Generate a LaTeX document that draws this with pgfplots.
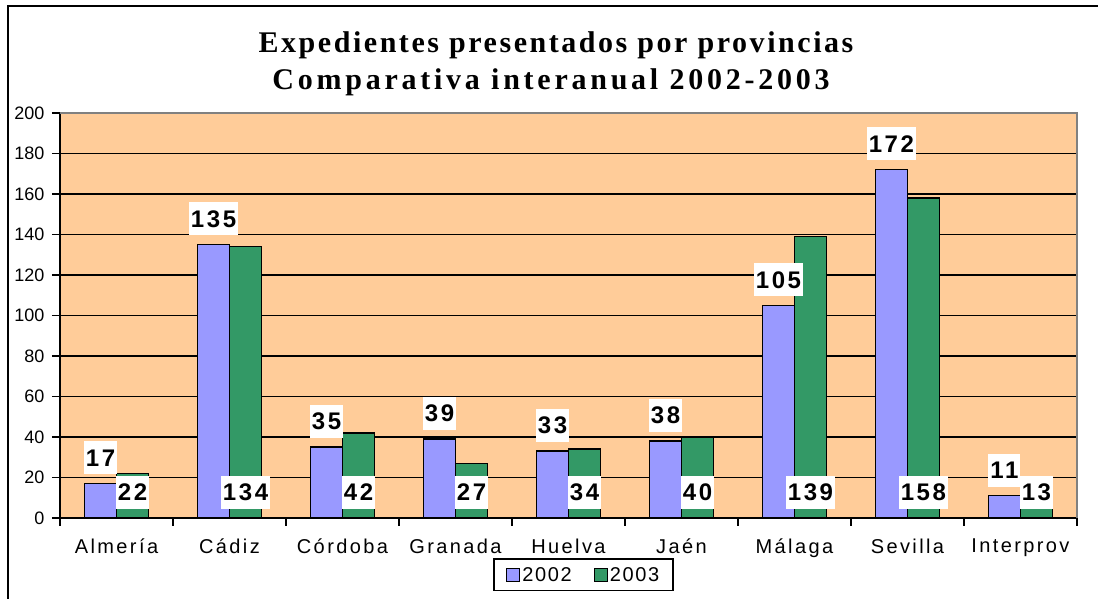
\documentclass[border=0pt]{standalone}
\usepackage{fontspec}
\setmainfont{Liberation Sans}
\newfontfamily\titlefont{Liberation Serif}
\newfontfamily\spacedfont{Liberation Sans}[LetterSpace=12]
\usepackage{pgfplots}
\pgfplotsset{compat=1.18}
\usepackage{pgfplotstable}
\definecolor{peach}{HTML}{FFCC99}
\definecolor{barA}{HTML}{9999FF}
\definecolor{barB}{HTML}{339966}

\pgfplotstableread{
x a b
0 17 22
1 135 134
2 35 42
3 39 27
4 33 34
5 38 40
6 105 139
7 172 158
8 11 13
}\data

\begin{document}
\begin{tikzpicture}
\useasboundingbox (0pt,0pt) rectangle (1098pt,599pt);
\fill[white] (0pt,0pt) rectangle (1098pt,599pt);
\draw[line width=2pt] (8pt,0pt) -- (8pt,593pt) -- (1099pt,593pt);
\node[anchor=base, font=\titlefont\bfseries\fontsize{30}{36}\selectfont\addfontfeatures{LetterSpace=8.5}] at (556pt,546pt) {Expedientes presentados por provincias};
\node[anchor=base, font=\titlefont\bfseries\fontsize{30}{36}\selectfont\addfontfeatures{LetterSpace=12.5}] at (551pt,509pt) {Comparativa interanual 2002-2003};
\begin{axis}[
  at={(60pt,81pt)}, anchor=south west,
  scale only axis, width=1017pt, height=405pt,
  xmin=-0.5, xmax=8.5, ymin=0, ymax=200,
  axis x line*=bottom, axis y line*=left,
  axis line style={line width=1.5pt, black},
  axis background/.style={fill=peach},
  /pgf/number format/assume math mode=true,
  ytick={0,20,...,200},
  ymajorgrids, grid style={black, line width=1.7pt},
  xtick={0,1,2,3,4,5,6,7,8},
  xticklabels={Almería,Cádiz,Córdoba,Granada,Huelva,Jaén,Málaga,Sevilla,Interprov},
  xtick style={draw=none},
  extra x ticks={-0.5,0.5,1.5,2.5,3.5,4.5,5.5,6.5,7.5,8.5},
  extra x tick labels={},
  extra x tick style={grid=none, xtick style={draw=black}},
  tick align=outside, major tick length=8pt,
  tick style={black, line width=1.5pt},
  yticklabel style={font=\fontsize{18}{20}\selectfont, xshift=-4pt},
  xticklabel style={font=\spacedfont\fontsize{20}{24}\selectfont, yshift=-9pt},
  legend style={at={(0.515,-0.1407)}, anchor=center, draw=black, line width=1.5pt,
    font=\fontsize{20}{24}\selectfont\addfontfeatures{LetterSpace=8},
    legend columns=2, inner xsep=12pt, inner ysep=6pt,
    /tikz/every even column/.append style={column sep=20pt}},
  clip=false,
]
\addplot[ybar, bar width=32pt, bar shift=-16pt, fill=barA, draw=black, line width=1.5pt,
  legend image code/.code={\draw[fill=barA, draw=black, line width=1.2pt] (0pt,-6.5pt) rectangle (13pt,6.5pt);}]
  table[x=x, y=a] {\data};
\addlegendentry{2002}
\addplot[ybar, bar width=32pt, bar shift=16pt, fill=barB, draw=black, line width=1.5pt,
  legend image code/.code={\draw[fill=barB, draw=black, line width=1.2pt] (0pt,-6.5pt) rectangle (13pt,6.5pt);}]
  table[x=x, y=b] {\data};
\addlegendentry{2003}
\addplot[draw=none, mark=none, forget plot,
  nodes near coords, point meta=explicit symbolic,
  every node near coord/.append style={anchor=south, xshift=-16pt, yshift=9pt,
    fill=white, inner xsep=2pt, inner ysep=8pt, text height=17pt, text depth=0pt,
    font=\fontsize{24}{28}\selectfont\bfseries\addfontfeatures{LetterSpace=11}}]
  table[x=x, y=a, meta=a] {\data};
\addplot[draw=none, mark=none, forget plot,
  nodes near coords, point meta=explicit symbolic,
  every node near coord/.append style={anchor=south, xshift=16pt, yshift=9pt,
    fill=white, inner xsep=2pt, inner ysep=8pt, text height=17pt, text depth=0pt,
    font=\fontsize{24}{28}\selectfont\bfseries\addfontfeatures{LetterSpace=11}}]
  table[x=x, y expr=0, meta=b] {\data};
\draw[gray, line width=1.5pt] (rel axis cs:0,1) -- (rel axis cs:1,1) -- (rel axis cs:1,0);
\end{axis}
\end{tikzpicture}
\end{document}
